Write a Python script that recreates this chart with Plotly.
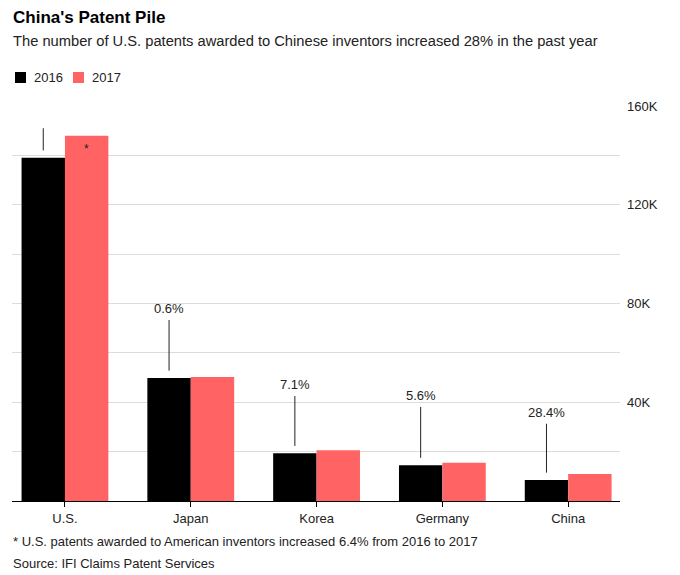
import plotly.graph_objects as go

# ---- data ----
categories = ["U.S.", "Japan", "Korea", "Germany", "China"]
patents_2016 = [139000, 49800, 19300, 14500, 8500]
patents_2017 = [148000, 50200, 20600, 15500, 10900]
change_labels = ["", "0.6%", "7.1%", "5.6%", "28.4%"]
callout_len = [9000, 20500, 20200, 20600, 19800]
series_names = ["2016", "2017"]
y_tickvals = [0, 20000, 40000, 60000, 80000, 100000, 120000, 140000, 160000]
y_ticktext = ["", "", "40K", "", "80K", "", "120K", "", "160K"]

BLACK = "#000000"
RED = "#ff6363"
FONT = "Liberation Sans, Arial, sans-serif"

# the page body has an 8px margin; work in page pixels and convert
PAGE_OFF = 8
W, H = 680 - PAGE_OFF, 575 - PAGE_OFF
PLOT_L, PLOT_R, PLOT_T, PLOT_B = 12, 620, 106, 501   # page pixels
L = PLOT_L - PAGE_OFF
R = W - (PLOT_R - PAGE_OFF)
T = PLOT_T - PAGE_OFF
B = H - (PLOT_B - PAGE_OFF)
PH = PLOT_B - PLOT_T
PW = PLOT_R - PLOT_L
BARGAP = 0.31


def py(pix):
    return (PLOT_B - pix) / PH


def px(pix):
    return (pix - PLOT_L) / PW


fig = go.Figure()
fig.add_trace(go.Bar(name=series_names[0], x=categories, y=patents_2016,
                     marker=dict(color=BLACK, line=dict(width=0))))
fig.add_trace(go.Bar(name=series_names[1], x=categories, y=patents_2017,
                     marker=dict(color=RED, line=dict(width=0))))

off = (1 - BARGAP) / 4
shapes = []
annotations = []
for i, (v16, v17, lab, ln) in enumerate(zip(patents_2016, patents_2017, change_labels, callout_len)):
    y0 = v16 + 3000
    y1 = y0 + ln
    shapes.append(dict(type="line", xref="x", yref="y", x0=i - off, x1=i - off,
                       y0=y0, y1=y1, line=dict(color="#222222", width=1)))
    if lab:
        annotations.append(dict(x=i - off, y=y1, xref="x", yref="y", text=lab,
                                showarrow=False, yanchor="bottom", xanchor="center",
                                yshift=2, font=dict(family=FONT, size=13, color="#222222")))

# asterisk in U.S. 2017 bar
annotations.append(dict(x=0 + off, y=patents_2017[0], xref="x", yref="y", text="*",
                        showarrow=False, yanchor="top", xanchor="center", yshift=-4,
                        font=dict(family=FONT, size=12, color="#222222")))

# manual legend (squares + labels)
legend_sq_x = [15, 73]
legend_tx_x = [32, 90]
for nm, col, sx, tx in zip(series_names, [BLACK, RED], legend_sq_x, legend_tx_x):
    shapes.append(dict(type="rect", xref="paper", yref="paper",
                       x0=px(sx), x1=px(sx + 11), y0=py(83), y1=py(72),
                       fillcolor=col, line=dict(width=0)))
    annotations.append(dict(text=nm, xref="paper", yref="paper", x=px(tx), y=py(77.5),
                            xanchor="left", yanchor="middle", showarrow=False,
                            font=dict(family=FONT, size=13, color="#222222")))

# titles and notes
annotations += [
    dict(text="<b>China's Patent Pile</b>", xref="paper", yref="paper", x=px(11), y=py(18),
         xanchor="left", yanchor="middle", showarrow=False,
         font=dict(family=FONT, size=17, color="#000000")),
    dict(text="The number of U.S. patents awarded to Chinese inventors increased 28% in the past year",
         xref="paper", yref="paper", x=px(11), y=py(41), xanchor="left", yanchor="middle",
         showarrow=False, font=dict(family=FONT, size=14.7, color="#222222")),
    dict(text="* U.S. patents awarded to American inventors increased 6.4% from 2016 to 2017",
         xref="paper", yref="paper", x=px(11), y=py(541), xanchor="left", yanchor="middle",
         showarrow=False, font=dict(family=FONT, size=13, color="#222222")),
    dict(text="Source: IFI Claims Patent Services",
         xref="paper", yref="paper", x=px(11), y=py(563), xanchor="left", yanchor="middle",
         showarrow=False, font=dict(family=FONT, size=13, color="#222222")),
]

fig.update_layout(
    width=W, height=H,
    margin=dict(l=L, r=R, t=T, b=B, autoexpand=False),
    paper_bgcolor="white", plot_bgcolor="white",
    barmode="group", bargap=BARGAP, bargroupgap=0,
    font=dict(family=FONT, size=13, color="#222222"),
    showlegend=False,
    xaxis=dict(type="category", range=[-0.421, 4.412], showgrid=False, showline=True,
               linecolor="#000000", linewidth=1, ticks="outside", ticklen=5,
               tickcolor="#000000", tickfont=dict(family=FONT, size=13, color="#222222"),
               fixedrange=True),
    yaxis=dict(side="right", range=[0, 160000], tickvals=y_tickvals, ticktext=y_ticktext,
               showgrid=True, gridcolor="#dcdcdc", gridwidth=1, zeroline=False,
               showline=False, ticks="", ticklabelstandoff=6,
               tickfont=dict(family=FONT, size=13, color="#222222"), fixedrange=True),
    shapes=shapes,
    annotations=annotations,
)

fig.write_html("out.html")
